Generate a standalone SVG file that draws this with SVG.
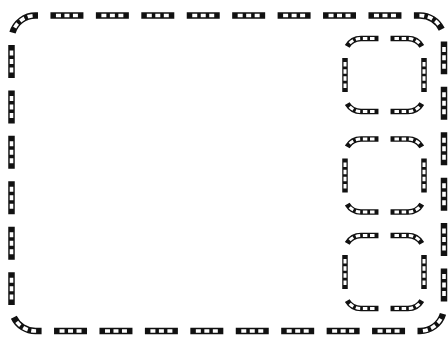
<svg xmlns="http://www.w3.org/2000/svg" xmlns:xlink="http://www.w3.org/1999/xlink" width="448" height="338" viewBox="0 0 448 338">
<style>
.ok{fill:none;stroke:#111;stroke-width:6.5;stroke-dasharray:33 12.46;stroke-dashoffset:30.5}
.ow{fill:none;stroke:#fff;stroke-width:3.6;stroke-dasharray:0 5.5 5 3.5 5 3.5 5 17.96;stroke-dashoffset:30.5}
.ik{fill:none;stroke:#111;stroke-width:5.5;stroke-dasharray:34 12.09;stroke-dashoffset:40.05}
.iw{fill:none;stroke:#fff;stroke-width:3;stroke-dasharray:0 3.95 4.5 2.7 4.5 2.7 4.5 2.7 4.5 16.04;stroke-dashoffset:40.05}
</style>
<defs>
<path id="outer" pathLength="1454.72" d="M35.5,15.5 H420 A24,24 0 0 1 444,39.5 V307 A24,24 0 0 1 420,331 H35.5 A24,24 0 0 1 11.5,307 V39.5 A24,24 0 0 1 35.5,15.5 Z"/>
<path id="sq" pathLength="276.54" d="M384.5,0 H408 A16,16 0 0 1 424,16 V57 A16,16 0 0 1 408,73 H361 A16,16 0 0 1 345,57 V16 A16,16 0 0 1 361,0 Z"/>
</defs>
<rect width="448" height="338" fill="#fff"/>
<g id="frame">
<use class="ok" href="#outer"/>
<use class="ow" href="#outer"/>
</g>
<g id="panel-1" transform="translate(0,38.5)">
<use class="ik" href="#sq"/>
<use class="iw" href="#sq"/>
</g>
<g id="panel-2" transform="translate(0,139)">
<use class="ik" href="#sq"/>
<use class="iw" href="#sq"/>
</g>
<g id="panel-3" transform="translate(0,235.5)">
<use class="ik" href="#sq"/>
<use class="iw" href="#sq"/>
</g>
</svg>
